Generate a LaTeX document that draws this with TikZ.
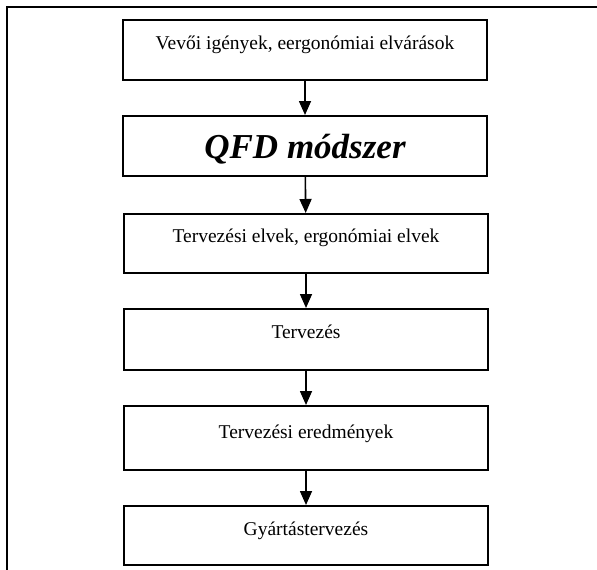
\documentclass[tikz,border=0pt]{standalone}
\usepackage{fontspec}
\setmainfont{Liberation Serif}
\usetikzlibrary{arrows.meta}

\begin{document}
\begin{tikzpicture}[
    x=1pt, y=-1pt,
    stage/.style={rectangle, draw, line width=1.6pt, minimum width=364pt, inner ysep=0pt, anchor=north, text centered, font=\fontsize{19.5}{22}\selectfont},
    flow/.style={-{Triangle[width=12pt,length=14pt]}, line width=1.6pt}
]
\useasboundingbox (0,0) rectangle (597,570);

% Frame
\draw[line width=1.2pt] (7,570) -- (7,7) -- (597,7);

% Stages
\node[stage, text height=30pt, text depth=30pt] (igeny) at (305,19) {Vevői igények, eergonómiai elvárások};
\node[stage, text height=43pt, text depth=17pt, font=\fontsize{35}{40}\selectfont\bfseries\itshape] (qfd) at (305,115) {QFD módszer};
\node[stage, text height=29pt, text depth=30pt] (elvek) at (306,213) {Tervezési elvek, ergonómiai elvek};
\node[stage, text height=30pt, text depth=31pt] (terv) at (306,308) {Tervezés};
\node[stage, text height=33pt, text depth=31pt] (ered) at (306,405) {Tervezési eredmények};
\node[stage, text height=30pt, text depth=29pt] (gyart) at (306,505) {Gyártástervezés};

% Arrows
\draw[flow] (igeny) -- (qfd);
\draw[flow] (qfd) -- (elvek);
\draw[flow] (elvek) -- (terv);
\draw[flow] (terv) -- (ered);
\draw[flow] (ered) -- (gyart);

\end{tikzpicture}
\end{document}
